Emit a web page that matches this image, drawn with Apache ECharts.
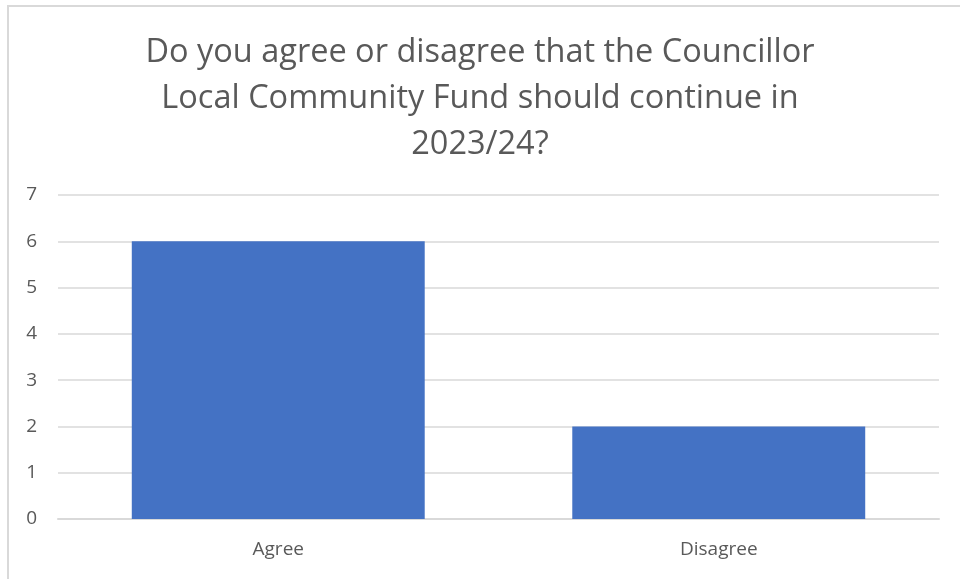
<!DOCTYPE html>
<html><head><meta charset="utf-8">
<script src="https://cdn.jsdelivr.net/npm/echarts@6/dist/echarts.min.js"></script>
<style>html,body{margin:0;padding:0;background:#fff}#c{width:960px;height:579px}
#frame{position:absolute;left:7px;top:5px;width:960px;height:600px;border:2px solid #d9d9d9;box-sizing:border-box;pointer-events:none}</style>
</head><body><div id="c"></div><div id="frame"></div>
<script>
const titleText = "Do you agree or disagree that the Councillor\nLocal Community Fund should continue in\n2023/24?";
const categories = ["Agree", "Disagree"];
const values = [6, 2];
const yTicks = {min: 0, max: 7, interval: 1};
const chart = echarts.init(document.getElementById('c'), null, {renderer: 'canvas'});
chart.setOption({
  animation: false,
  title: {text: titleText, left: 'center', top: 25,
    textStyle: {fontFamily: 'Open Sans', fontWeight: 'normal', fontSize: 32.5, color: '#595959', lineHeight: 46}},
  grid: {left: 58, right: 21, top: 195, bottom: 60},
  xAxis: {type: 'category', data: categories,
    axisLine: {lineStyle: {color: '#d9d9d9', width: 2}}, axisTick: {show: false},
    axisLabel: {color: '#595959', fontSize: 19, fontFamily: 'Open Sans', margin: 21}},
  yAxis: {type: 'value', min: yTicks.min, max: yTicks.max, interval: yTicks.interval,
    axisLine: {show: false}, axisTick: {show: false},
    splitLine: {lineStyle: {color: '#d9d9d9', width: 1.5}},
    axisLabel: {color: '#595959', fontSize: 19, fontFamily: 'Open Sans', margin: 21}},
  series: [{type: 'bar', data: values, barCategoryGap: '33.5%', itemStyle: {color: '#4472C4'}}]
});
</script></body></html>
